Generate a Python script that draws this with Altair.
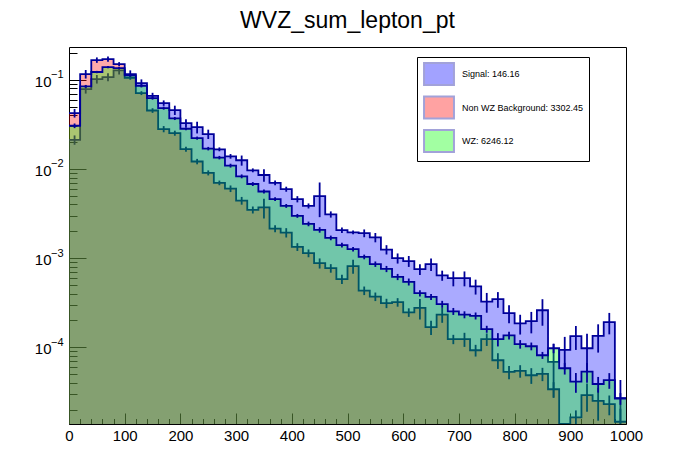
import altair as alt
import pandas as pd

FONT = "Liberation Sans"

# ---------------- data ----------------
bin_edges = list(range(0, 1001, 20))
bin_centers = [e + 10 for e in bin_edges[:-1]]

series_names = ["Signal: 146.16", "Non WZ Background: 3302.45", "WZ: 6246.12"]
fill_colors = ["#0000ff", "#ff0000", "#00ff00"]
line_color = "#000099"

signal = [0.0212, 0.0786, 0.1018, 0.1072, 0.1272, 0.1159, 0.0918, 0.0661, 0.0548, 0.0457,
          0.0327, 0.0294, 0.0246, 0.0166, 0.01385, 0.0125, 0.00965, 0.00854, 0.00698, 0.00593,
          0.00458, 0.00385, 0.00496, 0.00309, 0.002056, 0.001943, 0.001904, 0.001707, 0.001246, 0.000997,
          0.000925, 0.00075, 0.000854, 0.000639, 0.000595, 0.000595, 0.000481, 0.000325, 0.000346, 0.000241,
          0.000185, 0.000196, 0.00026, 6.84e-5, 9.33e-5, 1.332e-4, 9.74e-5, 1.339e-4, 1.91e-4, 2.68e-5]
signal_relerr = [0.12, 0.11, 0.11, 0.10, 0.10, 0.10, 0.10, 0.08, 0.07, 0.12,
                 0.10, 0.15, 0.12, 0.05, 0.06, 0.13, 0.05, 0.16, 0.06, 0.065,
                 0.08, 0.065, 0.42, 0.08, 0.07, 0.05, 0.10, 0.12, 0.12, 0.13,
                 0.14, 0.14, 0.16, 0.13, 0.19, 0.19, 0.19, 0.25, 0.20, 0.23,
                 0.25, 0.27, 0.33, 0.60, 0.40, 0.30, 0.45, 0.35, 0.27, 0.60]

nonwz = [0.0423, 0.1159, 0.1664, 0.1708, 0.1501, 0.1053, 0.0709, 0.0452, 0.028, 0.0252,
         0.01668, 0.01211, 0.00904, 0.00698, 0.00601, 0.00441, 0.003475, 0.003707, 0.002138, 0.001933,
         0.001335, 0.001135, 0.000877, 0.00077, 0.00058, 0.000813, 0.000432, 0.00037, 0.000312, 0.00032,
         0.000246, 0.000276, 0.0001677, 0.000232, 0.000123, 0.000123, 9.25e-5, 0.000123, 7.14e-5, 5.28e-5,
         5.42e-5, 4.85e-5, 5.02e-5, 3.38e-5, 0.0, 1.63e-5, 2.9e-5, 2.5e-5, 2.3e-5, 1.46e-5]
nonwz_relerr = [0.11, 0.11, 0.07, 0.065, 0.05, 0.05, 0.05, 0.06, 0.08, 0.065,
                0.065, 0.07, 0.065, 0.06, 0.085, 0.10, 0.09, 0.25, 0.09, 0.12,
                0.10, 0.10, 0.13, 0.11, 0.12, 0.18, 0.11, 0.11, 0.12, 0.11,
                0.11, 0.26, 0.18, 0.19, 0.12, 0.18, 0.15, 0.16, 0.20, 0.17,
                0.16, 0.20, 0.17, 0.20, 0.0, 0.20, 0.35, 0.40, 0.25, 0.40]

wz = [0.0305, 0.0841, 0.1221, 0.1389, 0.1353, 0.1117, 0.0856, 0.0623, 0.0481, 0.0368,
      0.0282, 0.02216, 0.01689, 0.01339, 0.01089, 0.00826, 0.00677, 0.00558, 0.00459, 0.00385,
      0.002976, 0.00242, 0.002072, 0.001685, 0.001399, 0.001259, 0.001031, 0.000856, 0.000756, 0.000615,
      0.000541, 0.000404, 0.000367, 0.000304, 0.000253, 0.000232, 0.000225, 0.0001596, 0.000123, 0.0001357,
      0.0001083, 0.0001026, 8.13e-5, 9.74e-5, 5.81e-5, 4.11e-5, 5.32e-5, 3.87e-5, 4.27e-5, 2.66e-5]
wz_relerr = [0.06, 0.04, 0.03, 0.03, 0.03, 0.03, 0.04, 0.04, 0.04, 0.04,
             0.04, 0.04, 0.045, 0.045, 0.05, 0.05, 0.05, 0.05, 0.05, 0.05,
             0.05, 0.06, 0.07, 0.06, 0.06, 0.06, 0.06, 0.07, 0.08, 0.08,
             0.09, 0.08, 0.08, 0.09, 0.09, 0.09, 0.09, 0.09, 0.17, 0.10,
             0.11, 0.10, 0.09, 0.12, 0.15, 0.25, 0.25, 0.20, 0.20, 0.15]

x_major_ticks = list(range(0, 1001, 100))
x_minor_ticks = [v for v in range(0, 1001, 20) if v % 100]
y_domain = [1.377e-5, 0.233]
y_major_ticks = [1e-4, 1e-3, 1e-2, 1e-1]
y_exponent_labels = ["\u22124", "\u22123", "\u22122", "\u22121"]
y_minor_ticks = [m * 10.0 ** e for e in range(-5, 0) for m in range(2, 10)
                 if y_domain[0] < m * 10.0 ** e < y_domain[1]]

# ---------------- frames ----------------
def step_frame(name, vals):
    rows = [{"series": name, "x": bin_edges[i], "v": vals[i]} for i in range(len(vals))]
    rows.append({"series": name, "x": bin_edges[-1], "v": vals[-1]})
    return pd.DataFrame(rows)

def err_frame(name, vals, rel):
    rows = [{"series": name, "c": bin_centers[i], "v": vals[i], "r": rel[i]}
            for i in range(len(vals)) if vals[i] > 0]
    return pd.DataFrame(rows)

ymin = y_domain[0]
xscale = alt.Scale(domain=[0, 1000], nice=False, zero=False)
yscale = alt.Scale(type="log", domain=y_domain, nice=False)
cscale = alt.Scale(domain=series_names, range=fill_colors)

legend = alt.Legend(
    title=None, orient="none", legendX=348, legendY=10,
    symbolType="M-1.36,-1L1.36,-1L1.36,1L-1.36,1Z", symbolSize=484,
    symbolStrokeColor=line_color, symbolStrokeWidth=2, symbolOpacity=0.36,
    symbolOffset=5,
    labelFont=FONT, labelFontSize=9, labelColor="black", labelOffset=11,
    rowPadding=3.5, padding=5, strokeColor="black", fillColor="white",
)

ax_x_major = alt.Axis(orient="bottom", values=x_major_ticks, tickSize=11, offset=-11,
                      domain=False, grid=False, ticks=True, tickColor="black", tickWidth=1,
                      labels=True, format="d", labelFont=FONT, labelFontSize=15,
                      labelColor="black", labelPadding=11, labelBaseline="middle",
                      labelFlush=False, labelOverlap=False, labelBound=False, title=None)
ax_x_minor = alt.Axis(orient="bottom", values=x_minor_ticks, tickSize=5.5, offset=-5.5,
                      domain=False, grid=False, tickColor="black", tickWidth=1,
                      labels=False, title=None)
ax_y_major = alt.Axis(orient="left", values=y_major_ticks, tickSize=17, offset=-17,
                      domain=False, grid=False, tickColor="black", tickWidth=1,
                      labels=False, title=None)
ax_y_minor = alt.Axis(orient="left", values=y_minor_ticks, tickSize=8, offset=-8,
                      domain=False, grid=False, tickColor="black", tickWidth=1,
                      labels=False, title=None)
ax_y_base = alt.Axis(orient="left", values=y_major_ticks, ticks=False, domain=False,
                     grid=False, labelExpr="'10'", labelFont=FONT, labelFontSize=15,
                     labelColor="black", labelPadding=18, labelOffset=1.5,
                     labelOverlap=False, labelBaseline="middle", title=None)

exp_expr = f"'{y_exponent_labels[-1]}'"
for v, lab in reversed(list(zip(y_major_ticks[:-1], y_exponent_labels[:-1]))):
    exp_expr = f"datum.value < {v * 3} ? '{lab}' : " + exp_expr
ax_y_exp = alt.Axis(orient="left", values=y_major_ticks, ticks=False, domain=False,
                    grid=False, labelExpr=exp_expr, labelFont=FONT, labelFontSize=11,
                    labelColor="black", labelPadding=6, labelOffset=-5,
                    labelOverlap=False, labelBaseline="middle", title=None)

layers = []
series = [(series_names[0], signal, signal_relerr),
          (series_names[1], nonwz, nonwz_relerr),
          (series_names[2], wz, wz_relerr)]
axis_sets = [
    (ax_x_major, ax_y_major, ax_x_minor, ax_y_minor, None, ax_y_base),
    (None, ax_y_exp, None, None, None, None),
    (None, None, None, None, None, None),
]

for (name, vals, rel), (axa, aya, axl, ayl, axe, aye) in zip(series, axis_sets):
    sdf = step_frame(name, vals)
    edf = err_frame(name, vals, rel)
    area = alt.Chart(sdf).transform_calculate(
        vp=f"max(datum.v, {ymin})", base=f"{ymin}"
    ).mark_area(interpolate="step-after", fillOpacity=0.333, clip=True).encode(
        x=alt.X("x:Q", scale=xscale, axis=axa),
        y=alt.Y("vp:Q", scale=yscale, axis=aya),
        y2="base:Q",
        color=alt.Color("series:N", scale=cscale, legend=legend),
    )
    line = alt.Chart(sdf).transform_calculate(
        vp=f"max(datum.v, {ymin})"
    ).mark_line(interpolate="step-after", color=line_color, strokeWidth=1.8, clip=True).encode(
        x=alt.X("x:Q", scale=xscale, axis=axl),
        y=alt.Y("vp:Q", scale=yscale, axis=ayl),
    )
    err = alt.Chart(edf).transform_calculate(
        lo=f"max(datum.v * (1 - datum.r), {ymin})", hi="datum.v * (1 + datum.r)"
    ).mark_rule(color=line_color, strokeWidth=1.8, clip=True).encode(
        x=alt.X("c:Q", scale=xscale, axis=axe),
        y=alt.Y("lo:Q", scale=yscale, axis=aye),
        y2="hi:Q",
    )
    layers += [area, line, err]

chart = alt.layer(*layers).resolve_axis(
    x="independent", y="independent"
).properties(
    width=557, height=377,
    autosize=alt.AutoSizeParams(type="none"),
    padding={"left": 61, "top": 39, "right": 56, "bottom": 36},
    title=alt.TitleParams("WVZ_sum_lepton_pt", fontSize=23, font=FONT, fontWeight="normal",
                          color="black", anchor="middle", offset=14),
    background="white",
).configure_view(stroke="black", strokeWidth=1)

chart.save("out.html", embed_options={"renderer": "svg", "actions": False})
